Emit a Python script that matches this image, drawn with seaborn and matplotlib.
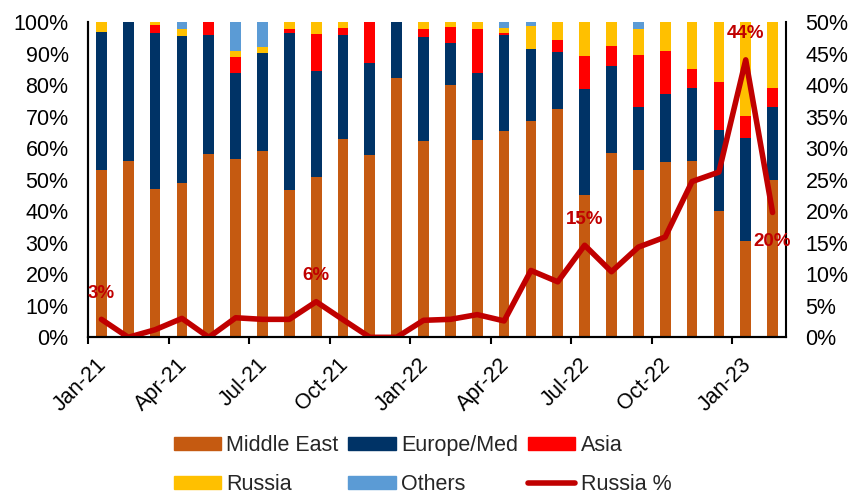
import numpy as np
import matplotlib.pyplot as plt
import matplotlib.transforms as mtransforms
from matplotlib.patches import Patch
from matplotlib.lines import Line2D
from matplotlib.ticker import PercentFormatter
import seaborn as sns

months = ['Jan-21', 'Feb-21', 'Mar-21', 'Apr-21', 'May-21', 'Jun-21',
          'Jul-21', 'Aug-21', 'Sep-21', 'Oct-21', 'Nov-21', 'Dec-21',
          'Jan-22', 'Feb-22', 'Mar-22', 'Apr-22', 'May-22', 'Jun-22',
          'Jul-22', 'Aug-22', 'Sep-22', 'Oct-22', 'Nov-22', 'Dec-22',
          'Jan-23', 'Feb-23']

# share of exports by destination (%)
middle_east = [53.1, 55.9, 46.9, 49.0, 58.1, 56.5, 59.1, 46.7, 50.8, 62.9, 57.8, 82.3, 62.3,
               79.9, 62.6, 65.5, 68.6, 72.4, 45.1, 58.5, 53.2, 55.7, 55.8, 40.2, 30.6, 49.8]
europe_med = [43.8, 44.1, 49.7, 46.7, 37.7, 27.4, 31.0, 49.7, 33.7, 33.1, 29.3, 17.7, 33.0,
              13.3, 21.1, 30.5, 22.9, 18.2, 33.6, 27.4, 19.7, 21.5, 23.4, 25.5, 32.6, 23.3]
asia = [0.0, 0.0, 2.4, 0.0, 4.2, 5.1, 0.0, 1.3, 11.8, 2.1, 12.9, 0.0, 2.5,
        5.3, 14.0, 0.5, 0.0, 3.8, 10.6, 6.5, 16.6, 13.6, 6.0, 15.2, 6.9, 5.9]
russia = [3.1, 0.0, 1.0, 2.2, 0.0, 1.9, 2.1, 2.3, 3.7, 1.9, 0.0, 0.0, 2.2,
          1.5, 2.3, 1.6, 7.2, 5.6, 10.7, 7.6, 8.2, 9.2, 14.8, 19.1, 29.9, 21.0]
others = [0.0, 0.0, 0.0, 2.1, 0.0, 9.1, 7.8, 0.0, 0.0, 0.0, 0.0, 0.0, 0.0,
          0.0, 0.0, 1.9, 1.3, 0.0, 0.0, 0.0, 2.3, 0.0, 0.0, 0.0, 0.0, 0.0]

# Russia % (right axis)
russia_pct = [2.85, 0.0, 1.2, 3.0, 0.0, 3.1, 2.85, 2.85, 5.65, 2.8, 0.0, 0.0, 2.7,
              2.85, 3.6, 2.6, 10.6, 8.8, 14.6, 10.4, 14.3, 15.9, 24.7, 26.2, 44.0, 19.8]

tick_labels = ['Jan-21', 'Apr-21', 'Jul-21', 'Oct-21', 'Jan-22',
               'Apr-22', 'Jul-22', 'Oct-22', 'Jan-23']
callouts = {0: '3%', 8: '6%', 18: '15%', 24: '44%', 25: '20%'}

sns.set_theme(style='white')
plt.rcParams['font.family'] = ['Liberation Sans', 'DejaVu Sans']

fig = plt.figure(figsize=(8.5, 4.97), dpi=100)
ax = fig.add_axes([0.1035, 0.3213, 0.8212, 0.6344])

layers = [('Middle East', middle_east, '#C55A11'),
          ('Europe/Med', europe_med, '#003366'),
          ('Asia', asia, '#FF0000'),
          ('Russia', russia, '#FFC000'),
          ('Others', others, '#5B9BD5')]
stack = np.cumsum([l[1] for l in layers], axis=0)

# draw cumulative totals back to front so each layer shows its own slice
for (name, _, col), tops in reversed(list(zip(layers, stack))):
    sns.barplot(x=months, y=tops, color=col, width=0.4, saturation=1,
                errorbar=None, ax=ax, edgecolor='none')

ax.set_ylim(0, 100)
ax.set_xlim(-0.5, len(months) - 0.5)
ax.set_yticks(np.arange(0, 101, 10))
ax.yaxis.set_major_formatter(PercentFormatter(xmax=100, decimals=0))
ax.set_xticks(np.arange(-0.5, 24, 3))
ax.set_xticklabels(tick_labels, rotation=45, ha='right', va='top', rotation_mode='anchor')
ax.set_xlabel('')
ax.set_ylabel('')

ax2 = ax.twinx()
sns.lineplot(x=np.arange(len(months)), y=russia_pct, color='#C00000', lw=4, ax=ax2,
             solid_joinstyle='round', solid_capstyle='round')
ax2.set_ylim(0, 50)
ax2.set_yticks(np.arange(0, 51, 5))
ax2.yaxis.set_major_formatter(PercentFormatter(xmax=100, decimals=0))
ax2.set_ylabel('')

for i, txt in callouts.items():
    dy = -29 if i == 25 else 26
    ax2.annotate(txt, (i, russia_pct[i]), xytext=(0, dy), textcoords='offset pixels',
                 ha='center', va='center', fontsize=13.5, fontweight='bold', color='#C00000')

for a in (ax, ax2):
    a.spines['top'].set_visible(False)
    for s in ('left', 'right', 'bottom'):
        a.spines[s].set_color('black')
        a.spines[s].set_linewidth(1.5)
    a.tick_params(axis='y', length=0, pad=14, labelsize=15.5, colors='black')
ax.spines['right'].set_visible(False)
ax.tick_params(axis='x', bottom=True, length=5, width=1.5, color='black',
               pad=7, labelsize=15.5, labelcolor='black')

shift = mtransforms.ScaledTranslation(8 / 100, 0, fig.dpi_scale_trans)
for lab in ax.get_xticklabels():
    lab.set_transform(lab.get_transform() + shift)

handles = [Patch(color=c) for _, _, c in layers]
handles.append(Line2D([0], [0], color='#C00000', lw=4, solid_capstyle='round'))
names = [n for n, _, _ in layers] + ['Russia %']
order = [0, 3, 1, 4, 2, 5]
fig.legend([handles[k] for k in order], [names[k] for k in order],
           loc='lower center', bbox_to_anchor=(0.497, -0.017), ncol=3, frameon=False,
           fontsize=15.5, handlelength=2.2, handleheight=0.55, handletextpad=0.25,
           columnspacing=0.45, labelspacing=0.8, borderpad=0)

fig.savefig('out.png', dpi=100)
